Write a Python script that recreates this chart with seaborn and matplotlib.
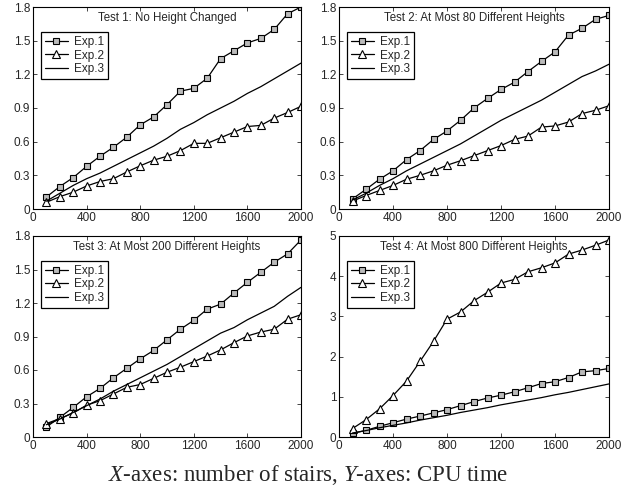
import numpy as np
import pandas as pd
import matplotlib
matplotlib.use("Agg")
import matplotlib.pyplot as plt
import seaborn as sns

stairs = [100, 200, 300, 400, 500, 600, 700, 800, 900, 1000,
          1100, 1200, 1300, 1400, 1500, 1600, 1700, 1800, 1900, 2000]

titles = ["Test 1: No Height Changed",
          "Test 2: At Most 80 Different Heights",
          "Test 3: At Most 200 Different Heights",
          "Test 4: At Most 800 Different Heights"]

t1_exp1 = [0.107, 0.20, 0.28, 0.38, 0.47, 0.55, 0.64, 0.75, 0.82, 0.93,
           1.05, 1.075, 1.165, 1.34, 1.41, 1.48, 1.52, 1.60, 1.74, 1.80]
t1_exp2 = [0.06, 0.11, 0.15, 0.205, 0.245, 0.27, 0.33, 0.385, 0.435, 0.47,
           0.52, 0.585, 0.585, 0.635, 0.685, 0.735, 0.745, 0.81, 0.86, 0.915]
t1_exp3 = [0.07, 0.14, 0.21, 0.27, 0.32, 0.38, 0.44, 0.50, 0.56, 0.63,
           0.71, 0.77, 0.84, 0.90, 0.96, 1.03, 1.09, 1.16, 1.23, 1.30]

t2_exp1 = [0.09, 0.175, 0.265, 0.34, 0.44, 0.52, 0.62, 0.695, 0.79, 0.90,
           0.985, 1.065, 1.13, 1.225, 1.315, 1.40, 1.55, 1.61, 1.69, 1.725]
t2_exp2 = [0.07, 0.12, 0.165, 0.21, 0.265, 0.30, 0.34, 0.39, 0.43, 0.475,
           0.52, 0.565, 0.62, 0.65, 0.73, 0.74, 0.775, 0.85, 0.88, 0.92]
t2_exp3 = [0.08, 0.14, 0.21, 0.27, 0.34, 0.40, 0.46, 0.52, 0.58, 0.65,
           0.72, 0.79, 0.85, 0.91, 0.97, 1.04, 1.11, 1.18, 1.23, 1.29]

t3_exp1 = [0.09, 0.175, 0.265, 0.36, 0.435, 0.53, 0.615, 0.70, 0.775, 0.87,
           0.965, 1.045, 1.145, 1.19, 1.29, 1.385, 1.475, 1.565, 1.64, 1.765]
t3_exp2 = [0.12, 0.165, 0.215, 0.285, 0.325, 0.385, 0.445, 0.47, 0.525, 0.58,
           0.625, 0.675, 0.725, 0.78, 0.845, 0.905, 0.94, 0.965, 1.055, 1.095]
t3_exp3 = [0.11, 0.16, 0.22, 0.28, 0.34, 0.41, 0.47, 0.53, 0.59, 0.65,
           0.72, 0.79, 0.86, 0.93, 0.98, 1.05, 1.11, 1.17, 1.26, 1.34]

t4_exp1 = [0.09, 0.165, 0.265, 0.355, 0.445, 0.52, 0.60, 0.68, 0.78, 0.88,
           0.97, 1.04, 1.125, 1.225, 1.33, 1.375, 1.48, 1.62, 1.65, 1.705]
t4_exp2 = [0.21, 0.43, 0.70, 1.03, 1.39, 1.88, 2.38, 2.93, 3.11, 3.39,
           3.60, 3.83, 3.92, 4.11, 4.21, 4.33, 4.55, 4.65, 4.77, 4.90]
t4_exp3 = [0.10, 0.16, 0.23, 0.29, 0.35, 0.42, 0.48, 0.54, 0.61, 0.67,
           0.73, 0.80, 0.86, 0.92, 0.98, 1.05, 1.11, 1.18, 1.25, 1.32]

tests = [(t1_exp1, t1_exp2, t1_exp3),
         (t2_exp1, t2_exp2, t2_exp3),
         (t3_exp1, t3_exp2, t3_exp3),
         (t4_exp1, t4_exp2, t4_exp3)]
yticks = [[0, 0.3, 0.6, 0.9, 1.2, 1.5, 1.8]] * 3 + [[0, 1, 2, 3, 4, 5]]
ylims = [(0, 1.8)] * 3 + [(0, 5)]
xticks = [0, 400, 800, 1200, 1600, 2000]

sns.set_style("ticks")
plt.rcParams.update({
    "font.family": ["Liberation Sans", "DejaVu Sans"],
    "xtick.direction": "in",
    "ytick.direction": "in",
    "xtick.top": True,
    "ytick.right": True,
    "axes.linewidth": 0.8,
    "axes.edgecolor": "black",
})

fig = plt.figure(figsize=(6.36, 4.95), dpi=100)
positions = [
    [33 / 636, 1 - 209 / 495, 268 / 636, 202 / 495],
    [339 / 636, 1 - 209 / 495, 270 / 636, 202 / 495],
    [33 / 636, 1 - 437 / 495, 268 / 636, 201 / 495],
    [339 / 636, 1 - 437 / 495, 270 / 636, 201 / 495],
]

for i, (pos, (e1, e2, e3)) in enumerate(zip(positions, tests)):
    ax = fig.add_axes(pos)
    df = pd.DataFrame({"stairs": stairs * 3,
                       "cpu": e1 + e2 + e3,
                       "exp": ["Exp.1"] * 20 + ["Exp.2"] * 20 + ["Exp.3"] * 20})
    sns.lineplot(data=df[df.exp == "Exp.1"], x="stairs", y="cpu", ax=ax,
                 color="black", lw=0.9, marker="s", markersize=5,
                 markerfacecolor="#bbbbbb", markeredgecolor="black",
                 markeredgewidth=0.8, label="Exp.1")
    sns.lineplot(data=df[df.exp == "Exp.2"], x="stairs", y="cpu", ax=ax,
                 color="black", lw=0.9, marker="^", markersize=6,
                 markerfacecolor="white", markeredgecolor="black",
                 markeredgewidth=0.8, label="Exp.2")
    sns.lineplot(data=df[df.exp == "Exp.3"], x="stairs", y="cpu", ax=ax,
                 color="black", lw=0.9, label="Exp.3")
    ax.set_xlim(0, 2000)
    ax.set_ylim(*ylims[i])
    ax.set_xticks(xticks)
    ax.set_yticks(yticks[i])
    ax.set_yticklabels([("%g" % v) for v in yticks[i]])
    ax.tick_params(labelsize=8.5, length=3, width=0.6, pad=2)
    ax.set_xlabel("")
    ax.set_ylabel("")
    ax.text(0.5, 0.945, titles[i], transform=ax.transAxes, ha="center",
            va="center", fontsize=8.3)
    leg = ax.legend(loc="upper left", bbox_to_anchor=(0.03, 0.875),
                    borderaxespad=0, fontsize=8.5, frameon=True,
                    fancybox=False, framealpha=1, edgecolor="black",
                    handlelength=2.0, handletextpad=0.5, labelspacing=0.15,
                    borderpad=0.3)
    leg.get_frame().set_linewidth(0.9)
    for s in ax.spines.values():
        s.set_visible(True)

plt.rcParams["mathtext.fontset"] = "custom"
plt.rcParams["mathtext.it"] = "Liberation Serif:italic"
plt.rcParams["mathtext.rm"] = "Liberation Serif"
fig.text(0.485, 0.04, r"$X$-axes: number of stairs, $Y$-axes: CPU time",
         ha="center", va="center", fontsize=16.5,
         family=["Liberation Serif", "DejaVu Serif"])

fig.savefig("out.png", dpi=100)
